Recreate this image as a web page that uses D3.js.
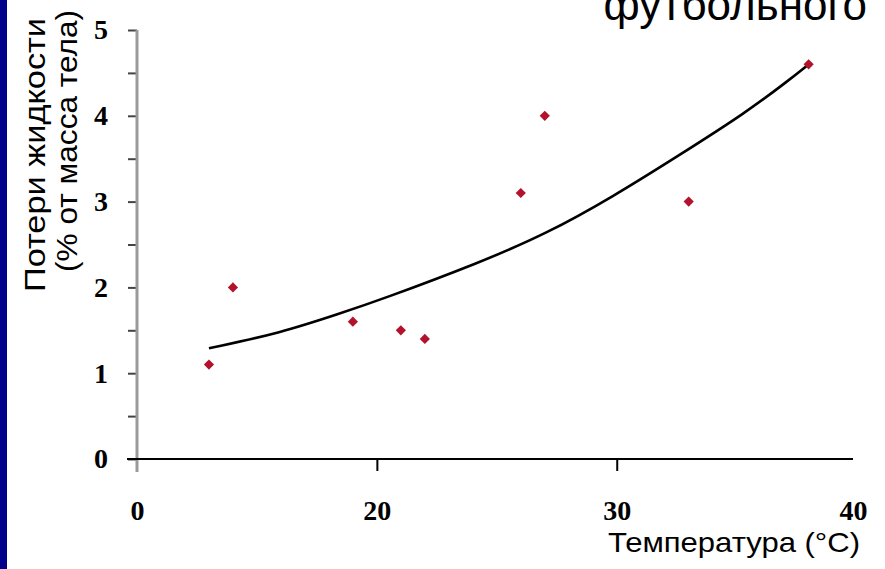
<!DOCTYPE html>
<html>
<head>
<meta charset="utf-8">
<script src="https://cdn.jsdelivr.net/npm/d3@7"></script>
<style>
  body { margin: 0; background: #fff; }
  svg { display: block; }
</style>
</head>
<body>
<svg width="885" height="569"></svg>
<script>
// data (x in axis units, y = % of body mass)
const temps = [3, 4, 9, 11, 12, 16, 17, 23, 28];
const losses = [1.1, 2.0, 1.6, 1.5, 1.4, 3.1, 4.0, 3.0, 4.6];

// trend line points
const trendX = [3, 6, 8.5, 10.1, 14.3, 17.1, 19.8, 22.6, 25.4, 27.2, 28];
const trendY = [1.29, 1.47, 1.70, 1.85, 2.29, 2.63, 3.05, 3.54, 4.04, 4.42, 4.60];

// tick labels as printed on the original
const xTickLabels = ['0', '20', '30', '40'];
const yTicks = [0, 0.5, 1, 1.5, 2, 2.5, 3, 3.5, 4, 4.5, 5];

const svg = d3.select('svg');
const width = +svg.attr('width');
const height = +svg.attr('height');

// blue slide border on the left
svg.append('rect')
  .attr('x', 0).attr('y', 0)
  .attr('width', 7).attr('height', height)
  .attr('fill', '#00008b');

// slide title, cropped at the top edge like in the original
svg.append('text')
  .attr('x', 867).attr('y', 20)
  .attr('text-anchor', 'end')
  .attr('font-family', 'Liberation Sans, Arial, sans-serif')
  .attr('font-size', 44)
  .attr('fill', '#000')
  .text('футбольного');

// scales
const xMax = 29.85;
const xScale = d3.scaleLinear().domain([0, xMax]).range([137, 853]);
const yScale = d3.scaleLinear().domain([0, 5]).range([459, 30]);

const serif = 'Liberation Serif, Times New Roman, serif';
const sans = 'Liberation Sans, Arial, sans-serif';

// y axis
const yAxis = svg.append('g')
  .attr('transform', `translate(${xScale(0)}, 0)`)
  .call(d3.axisLeft(yScale)
    .tickValues(yTicks)
    .tickSize(9)
    .tickPadding(20)
    .tickFormat(d => Number.isInteger(d) ? d : ''));
yAxis.select('.domain').remove();
yAxis.selectAll('.tick line').attr('stroke', '#444').attr('stroke-width', 2);
yAxis.selectAll('.tick text')
  .attr('font-family', serif)
  .attr('font-weight', 'bold')
  .attr('font-size', 28)
  .attr('fill', '#000');

svg.append('line')
  .attr('x1', xScale(0)).attr('x2', xScale(0))
  .attr('y1', yScale(5)).attr('y2', yScale(0) + 13)
  .attr('stroke', '#9a9a9a')
  .attr('stroke-width', 3);

// x axis
const xAxis = svg.append('g')
  .attr('transform', `translate(0, ${yScale(0)})`)
  .call(d3.axisBottom(xScale)
    .tickValues([0, 10, 20, xMax])
    .tickSize(12)
    .tickSizeOuter(0)
    .tickPadding(29)
    .tickFormat((d, i) => xTickLabels[i]));
xAxis.select('.domain').remove();
xAxis.selectAll('.tick line')
  .attr('stroke', '#000')
  .attr('stroke-width', 2)
  .attr('display', d => (d === 0 || d === xMax) ? 'none' : null);
xAxis.selectAll('.tick text')
  .attr('font-family', serif)
  .attr('font-weight', 'bold')
  .attr('font-size', 28)
  .attr('fill', '#000');

svg.append('line')
  .attr('x1', xScale(0) - 10).attr('x2', xScale(xMax))
  .attr('y1', yScale(0)).attr('y2', yScale(0))
  .attr('stroke', '#000')
  .attr('stroke-width', 2);

// axis titles
svg.append('text')
  .attr('transform', 'translate(45, 155) rotate(-90)')
  .attr('text-anchor', 'middle')
  .attr('font-family', sans)
  .attr('font-size', 30)
  .attr('textLength', 274)
  .attr('lengthAdjust', 'spacingAndGlyphs')
  .text('Потери жидкости');

svg.append('text')
  .attr('transform', 'translate(77, 141) rotate(-90)')
  .attr('text-anchor', 'middle')
  .attr('font-family', sans)
  .attr('font-size', 29)
  .attr('textLength', 262)
  .attr('lengthAdjust', 'spacingAndGlyphs')
  .text('(% от масса тела)');

svg.append('text')
  .attr('x', 608).attr('y', 552)
  .attr('font-family', sans)
  .attr('font-size', 28)
  .attr('textLength', 252)
  .attr('lengthAdjust', 'spacingAndGlyphs')
  .text('Температура (°C)');

// trend line
const trend = trendX.map((x, i) => [x, trendY[i]]);
const line = d3.line()
  .x(d => xScale(d[0]))
  .y(d => yScale(d[1]))
  .curve(d3.curveBasis);

svg.append('path')
  .datum(trend)
  .attr('d', line)
  .attr('fill', 'none')
  .attr('stroke', '#000')
  .attr('stroke-width', 2.6);

// points
const points = temps.map((t, i) => ({ t, v: losses[i] }));
const diamond = d3.symbol().type(d3.symbolSquare).size(52);

svg.selectAll('.pt').data(points)
  .enter().append('path')
  .attr('class', 'pt')
  .attr('d', diamond)
  .attr('transform', d => `translate(${xScale(d.t)}, ${yScale(d.v)}) rotate(45)`)
  .attr('fill', '#b3122c');
</script>
</body>
</html>
